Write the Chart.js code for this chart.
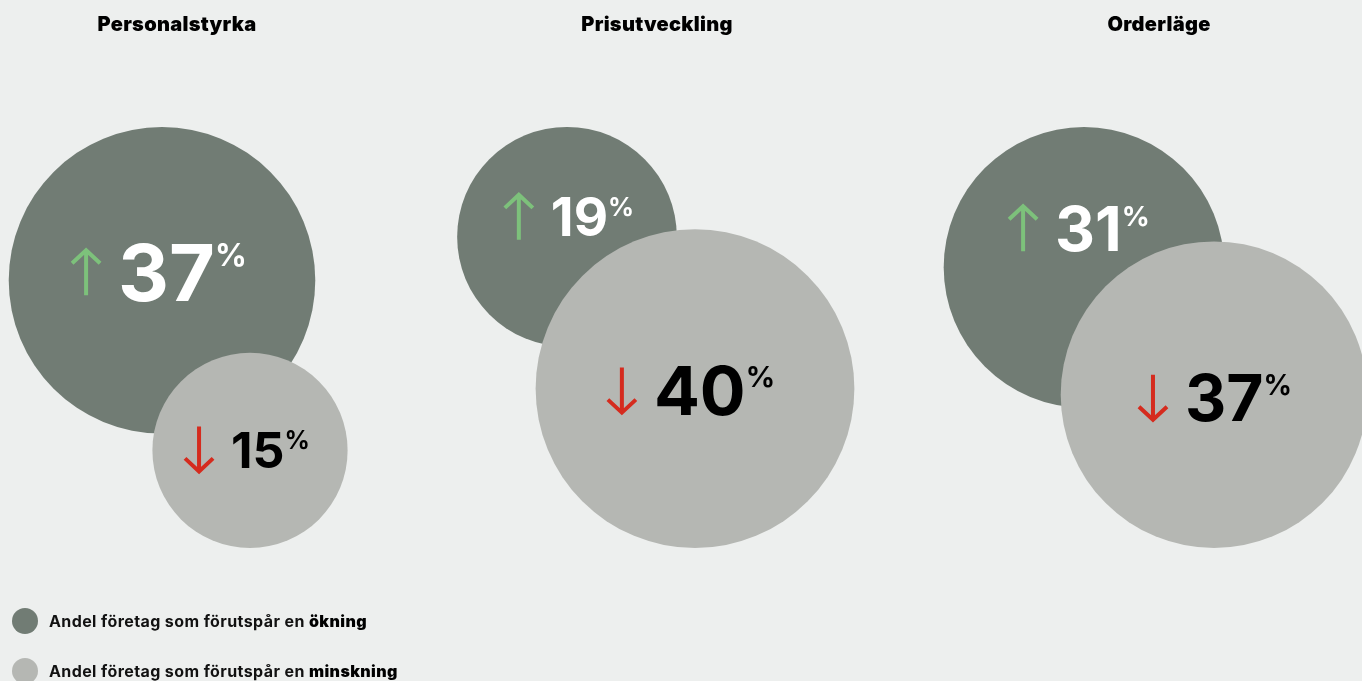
<!DOCTYPE html>
<html>
<head>
<meta charset="utf-8">
<script src="https://cdn.jsdelivr.net/npm/chart.js@4"></script>
<style>
  html, body { margin: 0; padding: 0; background: #edefee; }
  #wrap { width: 1362px; height: 681px; position: relative; }
</style>
</head>
<body>
<div id="wrap"><canvas id="chart"></canvas></div>
<script>
// data
const groups = ['Personalstyrka', 'Prisutveckling', 'Orderläge'];
const okning = [37, 19, 31];      // andel som förutspår en ökning (%)
const minskning = [15, 40, 37];   // andel som förutspår en minskning (%)
const seriesNames = ['ökning', 'minskning'];

// layout (positions, sizes) kept apart from the data
const titleX = [177, 657, 1159];
const darkX = [162, 567, 1084];
const lightX = [250, 695, 1214];
const topY = 127, bottomY = 548;
const radiusK = 25.2;             // r = k * sqrt(value)
const darkFont = [79, 53, 62];
const lightFont = [50, 68, 64];
const darkDy = [-8, -20, -39];
const lightDy = [-1, 2, 3];
const darkDx = [-3, 2, -5];
const lightDx = [-3, -4, 1];

const darkColor = '#717c74';
const lightColor = '#b5b7b3';
const upColor = '#7dc17b';
const downColor = '#d52b1e';
const FONT = 'Inter, "Open Sans", sans-serif';

const rad = v => radiusK * Math.sqrt(v);

const darkPoints = okning.map((v, i) => ({ x: darkX[i], y: topY + rad(v), r: rad(v), v: v, fs: darkFont[i], dx: darkDx[i], dy: darkDy[i] }));
const lightPoints = minskning.map((v, i) => ({ x: lightX[i], y: bottomY - rad(v), r: rad(v), v: v, fs: lightFont[i], dx: lightDx[i], dy: lightDy[i] }));

function drawArrow(ctx, x, cy, up, color) {
    const h = 46, w = 14;
    const top = cy - h / 2, bot = cy + h / 2;
    ctx.save();
    ctx.strokeStyle = color;
    ctx.lineWidth = 4;
    ctx.lineCap = 'butt';
    ctx.lineJoin = 'miter';
    ctx.beginPath();
    ctx.moveTo(x, top);
    ctx.lineTo(x, bot);
    if (up) {
        ctx.moveTo(x - w, top + w);
        ctx.lineTo(x, top + 1);
        ctx.lineTo(x + w, top + w);
    } else {
        ctx.moveTo(x - w, bot - w);
        ctx.lineTo(x, bot - 1);
        ctx.lineTo(x + w, bot - w);
    }
    ctx.stroke();
    ctx.restore();
}

const labelPlugin = {
    id: 'bubbleLabels',
    afterDatasetsDraw(chart) {
        const ctx = chart.ctx;
        chart.data.datasets.forEach((ds, di) => {
            const meta = chart.getDatasetMeta(di);
            const up = di === 0;
            meta.data.forEach((el, i) => {
                const p = ds.data[i];
                const fs = p.fs;
                const cap = fs * 0.727;
                const cx = el.x + p.dx;
                const cy = el.y + p.dy;
                const num = String(p.v);
                const pfs = 14 + fs * 0.22;
                ctx.save();
                ctx.font = '700 ' + fs + 'px ' + FONT;
                const numW = ctx.measureText(num).width;
                ctx.font = '700 ' + pfs + 'px ' + FONT;
                const pctW = ctx.measureText('%').width;
                const total = 47 + numW + pctW;
                const startX = cx - total / 2;
                drawArrow(ctx, startX + 15, cy, up, up ? upColor : downColor);
                const base = cy + cap / 2;
                ctx.fillStyle = up ? '#ffffff' : '#000000';
                ctx.textBaseline = 'alphabetic';
                ctx.textAlign = 'left';
                ctx.font = '700 ' + fs + 'px ' + FONT;
                ctx.fillText(num, startX + 47, base);
                ctx.font = '700 ' + pfs + 'px ' + FONT;
                ctx.fillText('%', startX + 47 + numW, base - cap + pfs * 0.72);
                ctx.restore();
            });
        });
    },
    afterDraw(chart) {
        const ctx = chart.ctx;
        ctx.save();
        // group titles
        ctx.fillStyle = '#000';
        ctx.textAlign = 'center';
        ctx.textBaseline = 'alphabetic';
        ctx.font = '900 20px ' + FONT;
        ctx.letterSpacing = '0.3px';
        groups.forEach((g, i) => ctx.fillText(g, titleX[i], 31));
        // legend
        ctx.textAlign = 'left';
        ctx.letterSpacing = '0.4px';
        chart.data.datasets.forEach((ds, i) => {
            const y = 621 + i * 50;
            ctx.fillStyle = ds.backgroundColor;
            ctx.beginPath();
            ctx.arc(25, y, 13, 0, Math.PI * 2);
            ctx.fill();
            ctx.fillStyle = '#111';
            ctx.font = '700 16px ' + FONT;
            const pre = 'Andel företag som förutspår en ';
            ctx.fillText(pre, 49, y + 6);
            const w = ctx.measureText(pre).width;
            ctx.fillStyle = '#000';
            ctx.font = '900 16px ' + FONT;
            ctx.fillText(seriesNames[i], 49 + w, y + 6);
        });
        ctx.restore();
    }
};

new Chart(document.getElementById('chart'), {
    type: 'bubble',
    data: {
        datasets: [
            { label: seriesNames[0], data: darkPoints, backgroundColor: darkColor, borderWidth: 0, order: 2, clip: false },
            { label: seriesNames[1], data: lightPoints, backgroundColor: lightColor, borderWidth: 0, order: 1, clip: false }
        ]
    },
    options: {
        responsive: true,
        maintainAspectRatio: false,
        animation: false,
        events: [],
        layout: { padding: 0, autoPadding: false },
        plugins: {
            legend: { display: false },
            tooltip: { enabled: false }
        },
        elements: { point: { hoverRadius: 0, hoverBorderWidth: 0 } },
        scales: {
            x: { type: 'linear', min: 0, max: 1362, display: false },
            y: { type: 'linear', min: 0, max: 681, reverse: true, display: false }
        }
    },
    plugins: [labelPlugin]
});
</script>
</body>
</html>
